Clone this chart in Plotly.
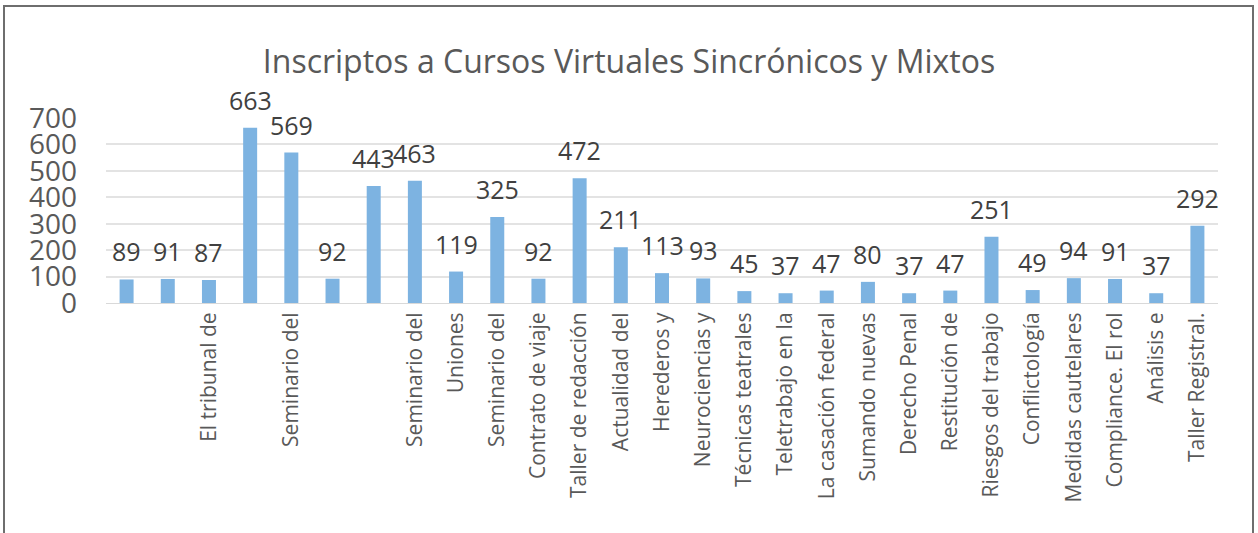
import plotly.graph_objects as go

title = "Inscriptos a Cursos Virtuales Sincrónicos y Mixtos"
labels = ["", "", "El tribunal de", "", "Seminario del", "", "", "Seminario del",
          "Uniones", "Seminario del", "Contrato de viaje", "Taller de redacción",
          "Actualidad del", "Herederos y", "Neurociencias y", "Técnicas teatrales",
          "Teletrabajo en la", "La casación federal", "Sumando nuevas", "Derecho Penal",
          "Restitución de", "Riesgos del trabajo", "Conflictología", "Medidas cautelares",
          "Compliance. El rol", "Análisis e", "Taller Registral."]
values = [89, 91, 87, 663, 569, 92, 443, 463, 119, 325, 92, 472, 211, 113, 93,
          45, 37, 47, 80, 37, 47, 251, 49, 94, 91, 37, 292]
y_ticks = [0, 100, 200, 300, 400, 500, 600, 700]

xs = list(range(len(values)))
FONT = "Open Sans"

W, H = 1258, 533
ml, mr, mt, mb = 106, 40, 118, 230
pw, ph = W - ml - mr, H - mt - mb

fig = go.Figure()
fig.add_trace(go.Bar(x=xs, y=values, marker=dict(color="#7DB3E1", line=dict(width=0)),
                     width=0.34, hoverinfo="x+y"))

for x, v in zip(xs, values):
    fig.add_annotation(x=x, y=v, text=str(v), showarrow=False, yshift=28,
                       xanchor="center", yanchor="middle",
                       font=dict(family=FONT, size=25, color="#404040"))

fig.add_shape(type="rect", xref="paper", yref="paper",
              x0=(4 - ml) / pw, x1=(1253 - ml) / pw,
              y0=-(600 - (H - mb)) / ph,
              y1=(H - mb - 6) / ph,
              line=dict(color="#6E6E6E", width=2), layer="below")

fig.update_layout(
    width=W, height=H, autosize=False,
    margin=dict(l=ml, r=mr, t=mt, b=mb),
    paper_bgcolor="white", plot_bgcolor="white",
    showlegend=False, bargap=0.66,
    title=dict(text=title, x=0.5, xanchor="center", y=(H - 62) / H, yanchor="middle",
               font=dict(family=FONT, size=32, color="#595959")),
    xaxis=dict(tickmode="array", tickvals=xs, ticktext=labels, tickangle=-90,
               range=[-0.5, len(values) - 0.5], showgrid=False, zeroline=False,
               showline=True, linecolor="#D9D9D9", linewidth=1, ticks="",
               tickfont=dict(family=FONT, size=21, color="#595959")),
    yaxis=dict(range=[0, 700], tickvals=y_ticks, showgrid=True, gridcolor="#E3E3E3",
               gridwidth=2, zeroline=False, ticks="", showline=False,
               tickfont=dict(family=FONT, size=28, color="#595959"), ticklabelstandoff=28),
)

fig.write_html("out.html")
